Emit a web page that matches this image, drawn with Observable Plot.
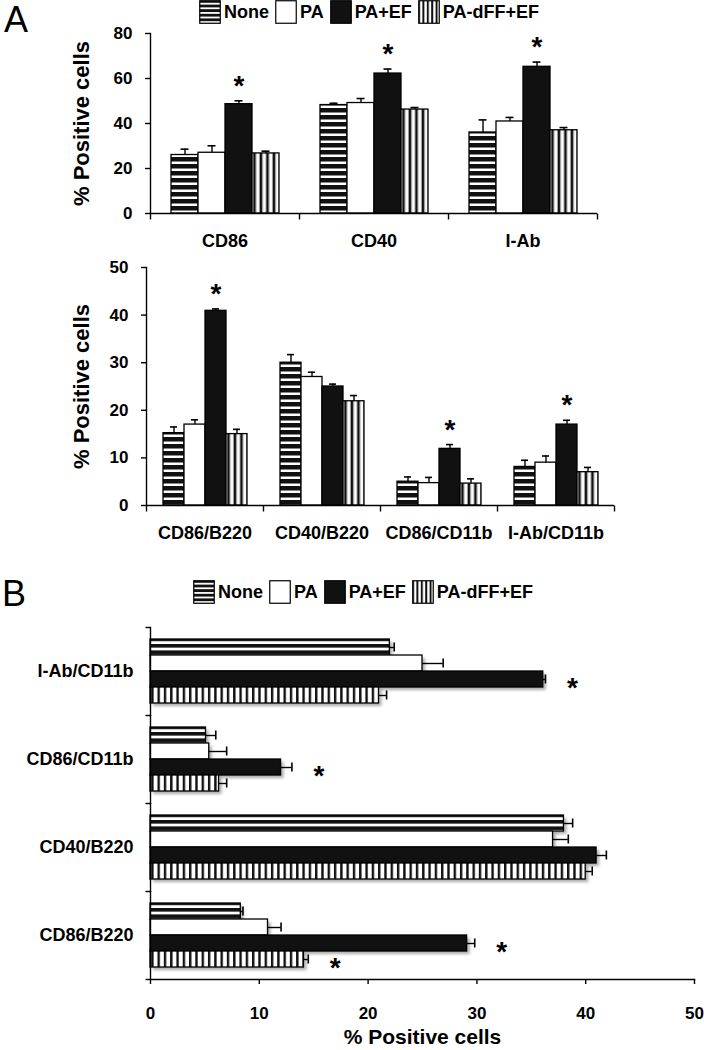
<!DOCTYPE html>
<html><head><meta charset="utf-8">
<script src="https://cdn.jsdelivr.net/npm/d3@7"></script>
<script src="https://cdn.jsdelivr.net/npm/@observablehq/plot@0.6"></script>
<style>
body{margin:0;background:#fff;}
#root{position:relative;width:704px;height:1050px;overflow:hidden;font-family:"Liberation Sans",Arial,sans-serif;color:#000;}
.abs{position:absolute;}
.panel{font-size:36px;font-weight:normal;line-height:1;}
.legend{display:flex;align-items:center;font-weight:bold;font-size:18px;white-space:nowrap;}
.legend .item{display:flex;align-items:center;margin-right:6px;}
.legend svg{margin-right:3px;}
svg text{font-family:"Liberation Sans",Arial,sans-serif;font-weight:bold;}
g[aria-label="y-axis tick label"] text, g[aria-label="x-axis tick label"] text{font-size:17px;}
g[aria-label="fx-axis tick label"] text, g[aria-label="fy-axis tick label"] text{font-size:18px;}
g[aria-label="y-axis label"] text{font-size:22px;}
g[aria-label="x-axis label"] text{font-size:21px;}
</style></head>
<body>
<svg width="0" height="0" style="position:absolute">
  <defs>
    <pattern id="pNone" patternUnits="userSpaceOnUse" width="8" height="7">
      <rect width="8" height="7" fill="#fff"/><rect width="8" height="4.5" fill="#111"/>
    </pattern>
    <pattern id="pNoneB" patternUnits="userSpaceOnUse" width="8" height="6.4">
      <rect width="8" height="6.4" fill="#fff"/><rect width="8" height="3.6" fill="#111"/>
    </pattern>
    <pattern id="pDffA" patternUnits="userSpaceOnUse" width="6.5" height="8">
      <rect width="6.5" height="8" fill="#fff"/><rect x="0" width="2" height="8" fill="#111"/><rect x="2" width="1" height="8" fill="#888"/><rect x="5.5" width="1" height="8" fill="#999"/>
    </pattern>
    <pattern id="pDffB" patternUnits="userSpaceOnUse" width="6.3" height="8">
      <rect width="6.3" height="8" fill="#fff"/><rect width="2.4" height="8" fill="#111"/>
    </pattern>
    <pattern id="pNoneL" patternUnits="userSpaceOnUse" width="8" height="4.6">
      <rect width="8" height="4.6" fill="#fff"/><rect width="8" height="2.8" fill="#111"/>
    </pattern>
    <pattern id="pDffL" patternUnits="userSpaceOnUse" width="4.4" height="8">
      <rect width="4.4" height="8" fill="#fff"/><rect width="2" height="8" fill="#111"/>
    </pattern>
  </defs>
</svg>
<div id="root"></div>
<script>
// ---------- data ----------
const treatments = ["None", "PA", "PA+EF", "PA-dFF+EF"];

// Panel A, top
const catsTop = ["CD86", "CD40", "I-Ab"];
const topNone = [26.0, 48.2, 36.0];
const topPA = [27.0, 49.1, 40.9];
const topPAEF = [48.6, 62.2, 65.2];
const topDff = [26.7, 46.2, 37.0];
const topNoneErr = [2.6, 0.8, 5.6];
const topPAErr = [3.1, 2.0, 1.8];
const topPAEFErr = [1.5, 2.0, 2.1];
const topDffErr = [1.0, 0.9, 1.2];
const topStars = ["CD86", "CD40", "I-Ab"]; // on PA+EF
const topTicks = [0, 20, 40, 60, 80];

// Panel A, bottom
const catsBot = ["CD86/B220", "CD40/B220", "CD86/CD11b", "I-Ab/CD11b"];
const botNone = [15.2, 30.0, 5.0, 8.1];
const botPA = [17.0, 27.0, 4.7, 9.0];
const botPAEF = [40.9, 25.0, 11.9, 17.0];
const botDff = [15.0, 21.9, 4.6, 7.0];
const botNoneErr = [1.3, 1.7, 1.0, 1.4];
const botPAErr = [1.0, 1.0, 1.2, 1.4];
const botPAEFErr = [0.4, 0.5, 0.9, 0.9];
const botDffErr = [1.0, 1.2, 1.0, 1.0];
const botStars = ["CD86/B220", "CD86/CD11b", "I-Ab/CD11b"]; // on PA+EF
const botTicks = [0, 10, 20, 30, 40, 50];

// Panel B (top to bottom)
const catsB = ["I-Ab/CD11b", "CD86/CD11b", "CD40/B220", "CD86/B220"];
const bNone = [22.0, 5.1, 38.0, 8.3];
const bPA = [25.0, 5.4, 37.0, 10.8];
const bPAEF = [36.1, 12.0, 41.0, 29.1];
const bDff = [21.0, 6.3, 40.0, 14.1];
const bNoneErr = [0.4, 0.9, 0.8, 0.2];
const bPAErr = [1.9, 1.6, 1.4, 1.2];
const bPAEFErr = [0.2, 1.0, 0.9, 0.7];
const bDffErr = [0.7, 0.7, 0.6, 0.4];
const bStarCats = ["I-Ab/CD11b", "CD86/CD11b", "CD86/B220", "CD86/B220"];
const bStarTreats = ["PA+EF", "PA+EF", "PA+EF", "PA-dFF+EF"];
const bTicks = [0, 10, 20, 30, 40, 50];

// ---------- helpers ----------
function table(cats, means, errs) {
  return treatments.flatMap((t, j) => cats.map((c, i) => ({cat: c, treat: t, v: means[j][i], e: errs[j][i]})));
}
const dataTop = table(catsTop, [topNone, topPA, topPAEF, topDff], [topNoneErr, topPAErr, topPAEFErr, topDffErr]);
const dataBot = table(catsBot, [botNone, botPA, botPAEF, botDff], [botNoneErr, botPAErr, botPAEFErr, botDffErr]);
const dataB = table(catsB, [bNone, bPA, bPAEF, bDff], [bNoneErr, bPAErr, bPAEFErr, bDffErr]);

const tickDown = {draw(ctx, size) { const l = Math.sqrt(size / Math.PI); ctx.moveTo(0, 0); ctx.lineTo(0, l); }};
const tickLeft = {draw(ctx, size) { const l = Math.sqrt(size / Math.PI); ctx.moveTo(0, 0); ctx.lineTo(-l, 0); }};
const FONT = '"Liberation Sans", Arial, sans-serif';
const fillsA = ["url(#pNone)", "#fff", "#111", "url(#pDffA)"];
const fillsB = ["url(#pNoneB)", "#fff", "#111", "url(#pDffB)"];
const root = document.getElementById("root");

function place(node, top, left = 0) {
  const d = document.createElement("div");
  d.className = "abs"; d.style.top = top + "px"; d.style.left = left + "px";
  d.appendChild(node); root.appendChild(d); return d;
}

function vertChart({cats, data, stars, yMax, ticks, height, marginLeft, marginRight, marginTop, marginBottom, capInset, labelOffset}) {
  const starData = data.filter(d => d.treat === "PA+EF" && stars.includes(d.cat));
  return Plot.plot({
    width: 704, height, marginLeft, marginRight, marginTop, marginBottom,
    style: {fontFamily: FONT, fontSize: "17px", fontWeight: "bold", background: "transparent", color: "#000"},
    fx: {domain: cats, padding: 0, label: null},
    x: {domain: treatments, paddingInner: 0, paddingOuter: 0.74, axis: null},
    y: {domain: [0, yMax]},
    color: {domain: treatments, range: fillsA},
    marks: [
      Plot.barY(data, {fx: "cat", x: "treat", y: "v", fill: "treat", stroke: "#000", strokeWidth: 1.3}),
      Plot.ruleX(data, {fx: "cat", x: "treat", y1: "v", y2: d => d.v + d.e, stroke: "#000", strokeWidth: 1.4}),
      Plot.tickY(data, {fx: "cat", x: "treat", y: d => d.v + d.e, insetLeft: capInset, insetRight: capInset, stroke: "#000", strokeWidth: 1.6}),
      Plot.text(starData, {fx: "cat", x: "treat", y: d => d.v + d.e, text: () => "*", dy: -15, fontSize: 28, fontWeight: "bold", fill: "#000"}),
      Plot.ruleY([0], {stroke: "#000", strokeWidth: 1.4}),
      Plot.frame({anchor: "left", facetAnchor: "left", stroke: "#000", strokeWidth: 1.4}),
      Plot.dot(cats, {fx: d => d, frameAnchor: "bottom-left", symbol: tickDown, r: 6, stroke: "#000", fill: "none", strokeWidth: 1.4}),
      Plot.dot(cats.slice(-1), {fx: d => d, frameAnchor: "bottom-right", symbol: tickDown, r: 6, stroke: "#000", fill: "none", strokeWidth: 1.4}),
      Plot.axisY({ticks, tickSize: 5, tickPadding: 13, strokeWidth: 1.4, label: "% Positive cells", labelAnchor: "center", labelArrow: "none", labelOffset}),
      Plot.axisFx({anchor: "bottom", tickSize: 0, tickPadding: 21, label: null})
    ]
  });
}

// Panel letters
const A = document.createElement("div"); A.className = "panel"; A.textContent = "A"; place(A, 2, 4);
const B = document.createElement("div"); B.className = "panel"; B.textContent = "B"; place(B, 576, 2);

// Legends
function legend(fills) {
  const div = document.createElement("div"); div.className = "legend";
  treatments.forEach((t, i) => {
    const it = document.createElement("div"); it.className = "item";
    it.innerHTML = `<svg width="22" height="24"><rect x="0.75" y="0.75" width="20.5" height="22.5" fill="${fills[i]}" stroke="#000" stroke-width="1.2"/></svg><span>${t}</span>`;
    div.appendChild(it);
  });
  return div;
}
const legendFills = ["url(#pNoneL)", "#fff", "#111", "url(#pDffL)"];
place(legend(legendFills), 0, 199);
place(legend(legendFills), 580, 193);

// Panel A top
place(vertChart({cats: catsTop, data: dataTop, stars: topStars, yMax: 80, ticks: topTicks,
  height: 230, marginLeft: 150, marginRight: 107, marginTop: 9, marginBottom: 41, capInset: 9.5, labelOffset: 77}), 24);

// Panel A bottom
place(vertChart({cats: catsBot, data: dataBot, stars: botStars, yMax: 50, ticks: botTicks,
  height: 295, marginLeft: 146, marginRight: 90, marginTop: 12, marginBottom: 45, capInset: 7, labelOffset: 73}), 255);

// Panel B
const starB = bStarCats.map((c, i) => dataB.find(d => d.cat === c && d.treat === bStarTreats[i]));
const chartB = Plot.plot({
  width: 704, height: 440, marginLeft: 150, marginRight: 10, marginTop: 15, marginBottom: 70,
  style: {fontFamily: FONT, fontSize: "17px", fontWeight: "bold", background: "transparent", color: "#000"},
  fy: {domain: catsB, padding: 0, label: null},
  y: {domain: treatments, paddingInner: 0, paddingOuter: 0.64, axis: null},
  x: {domain: [0, 50]},
  color: {domain: treatments, range: fillsB},
  marks: [
    Plot.barX(dataB, {fy: "cat", y: "treat", x: "v", fill: "#666", fillOpacity: 0.55, dx: 3, dy: 3, imageFilter: "blur(1.5px)"}),
    Plot.barX(dataB, {fy: "cat", y: "treat", x: "v", fill: "treat", stroke: "#000", strokeWidth: 1.3}),
    Plot.ruleY(dataB, {fy: "cat", y: "treat", x1: "v", x2: d => d.v + d.e, stroke: "#000", strokeWidth: 1.4}),
    Plot.tickX(dataB, {fy: "cat", y: "treat", x: d => d.v + d.e, insetTop: 3.5, insetBottom: 3.5, stroke: "#000", strokeWidth: 1.6}),
    Plot.text(starB, {fy: "cat", y: "treat", x: d => d.v + d.e, text: () => "*", dx: 27, dy: 9, fontSize: 28, fontWeight: "bold", fill: "#000"}),
    Plot.frame({anchor: "left", stroke: "#000", strokeWidth: 1.4}),
    Plot.frame({anchor: "bottom", facetAnchor: "bottom", stroke: "#000", strokeWidth: 1.4}),
    Plot.dot(catsB, {fy: d => d, frameAnchor: "top-left", symbol: tickLeft, r: 5, stroke: "#000", fill: "none", strokeWidth: 1.4}),
    Plot.dot(catsB.slice(-1), {fy: d => d, frameAnchor: "bottom-left", symbol: tickLeft, r: 5, stroke: "#000", fill: "none", strokeWidth: 1.4}),
    Plot.axisX({ticks: bTicks, tickSize: 5, tickPadding: 22, strokeWidth: 1.4, label: "% Positive cells", labelAnchor: "center", labelArrow: "none", labelOffset: 64}),
    Plot.axisFy({anchor: "left", tickSize: 0, tickPadding: 17, label: null})
  ]
});
place(chartB, 610);
</script>
</body></html>
